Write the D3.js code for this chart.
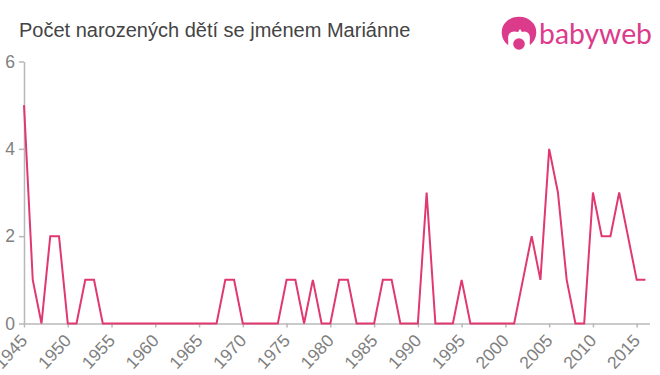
<!DOCTYPE html>
<html>
<head>
<meta charset="utf-8">
<script src="https://cdn.jsdelivr.net/npm/d3@7"></script>
<style>
html, body { margin: 0; padding: 0; background: #fff; }
svg { display: block; }
text { font-family: "Liberation Sans", Arial, sans-serif; }
</style>
</head>
<body>
<div id="chart"></div>
<script>
const titleText = "Počet narozených dětí se jménem Mariánne"
const logoText = "babyweb"
const years = [1945, 1946, 1947, 1948, 1949, 1950, 1951, 1952, 1953, 1954, 1955, 1956, 1957, 1958, 1959, 1960, 1961, 1962, 1963, 1964, 1965, 1966, 1967, 1968, 1969, 1970, 1971, 1972, 1973, 1974, 1975, 1976, 1977, 1978, 1979, 1980, 1981, 1982, 1983, 1984, 1985, 1986, 1987, 1988, 1989, 1990, 1991, 1992, 1993, 1994, 1995, 1996, 1997, 1998, 1999, 2000, 2001, 2002, 2003, 2004, 2005, 2006, 2007, 2008, 2009, 2010, 2011, 2012, 2013, 2014, 2015, 2016]
const counts = [5, 1, 0, 2, 2, 0, 0, 1, 1, 0, 0, 0, 0, 0, 0, 0, 0, 0, 0, 0, 0, 0, 0, 1, 1, 0, 0, 0, 0, 0, 1, 1, 0, 1, 0, 0, 1, 1, 0, 0, 0, 1, 1, 0, 0, 0, 3, 0, 0, 0, 1, 0, 0, 0, 0, 0, 0, 1, 2, 1, 4, 3, 1, 0, 0, 3, 2, 2, 3, 2, 1, 1]
const xTicks = [1945, 1950, 1955, 1960, 1965, 1970, 1975, 1980, 1985, 1990, 1995, 2000, 2005, 2010, 2015]
const yTicks = [0, 2, 4, 6]

const svg = d3.select("#chart").append("svg")
    .attr("width", 660)
    .attr("height", 375)

const x = d3.scaleLinear().domain([1945, 2015]).range([24, 636.7])
const y = d3.scaleLinear().domain([0, 6]).range([323.5, 61.5])

svg.append("text")
    .attr("x", 19)
    .attr("y", 37)
    .style("font-size", "20px")
    .style("fill", "#444")
    .text(titleText)

// axes
const xAxis = svg.append("g")
    .attr("transform", "translate(0, 323.5)")
    .call(d3.axisBottom(x).tickValues(xTicks).tickFormat(d3.format("d")).tickSize(4).tickSizeOuter(0))
xAxis.select(".domain").attr("d", "M24,0.5H650")
xAxis.selectAll("text")
    .attr("text-anchor", "end")
    .attr("dy", 0)
    .attr("y", 0)
    .attr("transform", "translate(4, 18) rotate(-47)")
    .style("font-size", "17.5px")

const yAxis = svg.append("g")
    .attr("transform", "translate(24, 0)")
    .call(d3.axisLeft(y).tickValues(yTicks).tickFormat(d3.format("d")).tickSize(5).tickSizeOuter(0))
yAxis.selectAll("text")
    .attr("x", -9)
    .style("font-size", "17.5px")

svg.selectAll(".domain, .tick line")
    .attr("stroke", "#b8b8b8")
    .attr("stroke-width", 1.5)
svg.selectAll(".tick text").style("fill", "#808080")

const line = d3.line()
    .x((d, i) => x(years[i]))
    .y(d => y(d))

svg.append("path")
    .datum(counts)
    .attr("fill", "none")
    .attr("stroke", "#e0396f")
    .attr("stroke-width", 2)
    .attr("d", line)

// logo
const logo = svg.append("g").attr("fill", "#dc3a8b")
logo.append("path")
    .attr("d", "M508,45 C500,39 500,27 506,22 C512,15 526,15 532,22 C538,27 538,39 530,45 C529,42 531,38 529,34 C527,31 524,31 522,32 L520,29 L518,32 C515,31 511,31 509,34 C507,38 509,42 508,45 Z")
logo.append("circle")
    .attr("cx", 519)
    .attr("cy", 44)
    .attr("r", 5.8)
logo.append("text")
    .attr("x", 539)
    .attr("y", 43.5)
    .style("font-family", "Lato")
    .style("font-size", "28px")
    .attr("textLength", 113)
    .attr("lengthAdjust", "spacingAndGlyphs")
    .text(logoText)
</script>
</body>
</html>
